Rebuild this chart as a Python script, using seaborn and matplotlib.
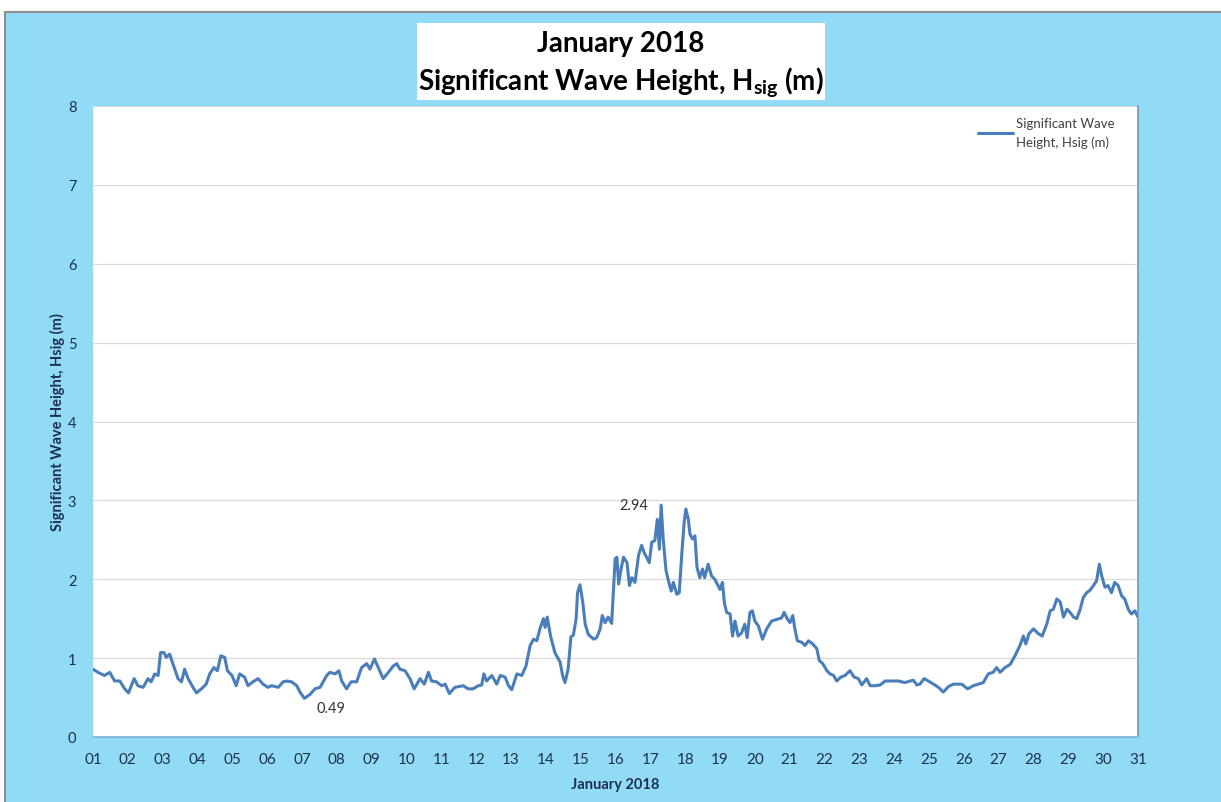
import numpy as np
import pandas as pd
import matplotlib.pyplot as plt
import matplotlib.ticker as mticker
from matplotlib.patches import Rectangle
import seaborn as sns

# 읽어낸 값: 날짜(소수점 = 하루 중 시각), 유의파고 (m)
day = [1.00, 1.14, 1.33, 1.48, 1.62, 1.77, 1.91, 2.02, 2.18, 2.29, 2.44, 2.58, 2.67, 2.77, 2.87,
       2.94, 3.04, 3.10, 3.20, 3.33, 3.44, 3.54, 3.63, 3.73, 3.87, 3.97, 4.11, 4.25, 4.35, 4.47,
       4.57, 4.67, 4.78, 4.86, 4.99, 5.11, 5.21, 5.35, 5.45, 5.59, 5.74, 5.88, 6.02, 6.13, 6.32,
       6.46, 6.56, 6.70, 6.85, 6.94, 7.07, 7.23, 7.37, 7.52, 7.71, 7.80, 7.95, 8.06, 8.14, 8.28,
       8.41, 8.57, 8.71, 8.86, 8.95, 9.08, 9.19, 9.33, 9.48, 9.62, 9.72, 9.81, 9.96, 10.10, 10.22,
       10.39, 10.51, 10.63, 10.72, 10.86, 11.01, 11.11, 11.23, 11.39, 11.63, 11.77, 11.91, 12.06,
       12.16, 12.22, 12.30, 12.45, 12.59, 12.69, 12.83, 12.93, 13.02, 13.17, 13.31, 13.43, 13.55,
       13.65, 13.74, 13.83, 13.93, 13.98, 14.04, 14.14, 14.26, 14.41, 14.48, 14.55, 14.64, 14.72,
       14.79, 14.87, 14.91, 14.98, 15.06, 15.13, 15.22, 15.37, 15.46, 15.56, 15.62, 15.70, 15.79,
       15.89, 15.99, 16.04, 16.09, 16.16, 16.23, 16.33, 16.40, 16.47, 16.56, 16.66, 16.75, 16.82,
       16.89, 16.97, 17.04, 17.13, 17.20, 17.26, 17.31, 17.37, 17.45, 17.52, 17.60, 17.66, 17.76,
       17.83, 17.90, 17.97, 18.02, 18.09, 18.14, 18.21, 18.28, 18.34, 18.42, 18.50, 18.56, 18.66,
       18.76, 18.85, 18.92, 19.00, 19.07, 19.13, 19.19, 19.29, 19.36, 19.43, 19.52, 19.62, 19.71,
       19.78, 19.86, 19.93, 20.00, 20.10, 20.22, 20.34, 20.48, 20.63, 20.77, 20.84, 20.93, 21.01,
       21.09, 21.15, 21.22, 21.35, 21.44, 21.54, 21.66, 21.78, 21.85, 21.95, 22.07, 22.16, 22.26,
       22.35, 22.47, 22.59, 22.73, 22.85, 22.97, 23.07, 23.21, 23.31, 23.45, 23.60, 23.74, 23.93,
       24.12, 24.31, 24.46, 24.55, 24.65, 24.74, 24.86, 24.98, 25.13, 25.27, 25.41, 25.56, 25.70,
       25.94, 26.11, 26.27, 26.41, 26.56, 26.70, 26.84, 26.94, 27.04, 27.18, 27.33, 27.47, 27.61,
       27.71, 27.78, 27.87, 28.00, 28.14, 28.25, 28.38, 28.48, 28.57, 28.67, 28.77, 28.86, 28.96,
       29.05, 29.15, 29.24, 29.34, 29.43, 29.53, 29.62, 29.72, 29.81, 29.89, 29.96, 30.05, 30.14,
       30.24, 30.33, 30.43, 30.53, 30.62, 30.72, 30.81, 30.91, 31.00]

hsig = [0.86, 0.82, 0.78, 0.82, 0.71, 0.71, 0.61, 0.56, 0.74, 0.65, 0.63, 0.74, 0.70, 0.80, 0.78,
        1.07, 1.07, 1.01, 1.05, 0.88, 0.74, 0.70, 0.86, 0.74, 0.63, 0.56, 0.61, 0.67, 0.80, 0.88,
        0.84, 1.03, 1.01, 0.84, 0.78, 0.65, 0.80, 0.76, 0.65, 0.70, 0.74, 0.67, 0.63, 0.65, 0.63,
        0.70, 0.71, 0.70, 0.65, 0.57, 0.49, 0.54, 0.61, 0.63, 0.78, 0.82, 0.80, 0.84, 0.71, 0.61,
        0.70, 0.70, 0.88, 0.93, 0.86, 0.99, 0.88, 0.74, 0.82, 0.90, 0.93, 0.86, 0.84, 0.74, 0.61,
        0.74, 0.67, 0.82, 0.71, 0.70, 0.65, 0.67, 0.55, 0.63, 0.65, 0.61, 0.61, 0.65,
        0.66, 0.80, 0.71, 0.78, 0.67, 0.78, 0.76, 0.65, 0.60, 0.80, 0.78, 0.90, 1.16,
        1.24, 1.22, 1.37, 1.50, 1.39, 1.52, 1.27, 1.07, 0.95, 0.78, 0.69, 0.86, 1.27,
        1.29, 1.50, 1.83, 1.93, 1.71, 1.43, 1.30, 1.24, 1.26, 1.37, 1.54, 1.45, 1.52,
        1.44, 2.26, 2.28, 1.94, 2.13, 2.28, 2.21, 1.92, 2.02, 1.96, 2.30, 2.43, 2.34,
        2.28, 2.21, 2.47, 2.49, 2.76, 2.38, 2.94, 2.51, 2.11, 1.98, 1.85, 1.96, 1.81,
        1.83, 2.30, 2.72, 2.89, 2.76, 2.57, 2.51, 2.55, 2.15, 2.02, 2.13, 2.02, 2.19,
        2.04, 2.00, 1.94, 1.87, 1.96, 1.69, 1.58, 1.56, 1.28, 1.47, 1.28, 1.32, 1.43,
        1.26, 1.58, 1.60, 1.47, 1.41, 1.24, 1.37, 1.47, 1.49, 1.51, 1.58, 1.50, 1.45,
        1.54, 1.37, 1.22, 1.20, 1.16, 1.22, 1.18, 1.12, 0.97, 0.93, 0.84, 0.80, 0.78,
        0.71, 0.76, 0.78, 0.84, 0.76, 0.74, 0.66, 0.74, 0.65, 0.65, 0.66, 0.71, 0.71,
        0.71, 0.69, 0.71, 0.72, 0.66, 0.67, 0.74, 0.71, 0.67, 0.63, 0.57, 0.64, 0.67,
        0.67, 0.61, 0.65, 0.67, 0.69, 0.80, 0.82, 0.88, 0.82, 0.88, 0.92, 1.03, 1.16,
        1.28, 1.18, 1.31, 1.37, 1.31, 1.28, 1.43, 1.60, 1.62, 1.75, 1.71, 1.52, 1.62,
        1.58, 1.52, 1.50, 1.62, 1.77, 1.83, 1.86, 1.92, 1.98, 2.19, 2.04, 1.90, 1.92,
        1.83, 1.96, 1.92, 1.79, 1.75, 1.62, 1.56, 1.60, 1.52]

day_ticks = list(range(1, 32))
day_labels = ['%02d' % d for d in day_ticks]
series_name = 'Significant Wave\nHeight, Hsig (m)'

df = pd.DataFrame({'day': day, 'hsig': hsig})

sns.set_style('white')
plt.rcParams['font.family'] = ['Lato', 'DejaVu Sans']
plt.rcParams['mathtext.fontset'] = 'custom'
plt.rcParams['mathtext.rm'] = 'Lato'
plt.rcParams['mathtext.bf'] = 'Lato:bold'

bg = '#92DBF6'
txt = '#1F2F4F'
line_col = '#4A7EBB'

fig = plt.figure(figsize=(12.21, 8.03), dpi=100, facecolor='white')
# 배경 패널 (축보다 아래에 그림)
fig.patches.append(Rectangle((5 / 1221, -0.01), 1.0, (803 - 13) / 803 + 0.01,
                             transform=fig.transFigure, facecolor=bg,
                             edgecolor='#8C8C8C', linewidth=1.5, zorder=-10))
# 제목 상자
fig.patches.append(Rectangle((417 / 1221, (803 - 101) / 803), 408 / 1221, 77 / 803,
                             transform=fig.transFigure, facecolor='white',
                             edgecolor='none', zorder=-5))

ax = fig.add_axes([93 / 1221, 65 / 803, 1045 / 1221, 631 / 803])
ax.set_facecolor('white')

sns.lineplot(data=df, x='day', y='hsig', ax=ax, color=line_col, linewidth=2.2,
             label=series_name, sort=False)

ax.set_xlim(1, 31)
ax.set_ylim(0, 8)
ax.set_xticks(day_ticks)
ax.set_xticklabels(day_labels)
ax.xaxis.set_minor_locator(mticker.MultipleLocator(1 / 8))
ax.set_yticks(range(0, 9))
ax.yaxis.grid(True, color='#D9D9D9', linewidth=0.9)
ax.set_axisbelow(True)

for s in ['left', 'top']:
    ax.spines[s].set_visible(False)
ax.spines['right'].set_color('#6E9AB5')
ax.spines['right'].set_linewidth(1.2)
ax.spines['bottom'].set_color('#7FB3DA')
ax.spines['bottom'].set_linewidth(1.2)

ax.tick_params(axis='x', which='major', length=5, width=1, color='#7FB3DA',
               labelsize=11, labelcolor=txt, pad=6)
ax.tick_params(axis='x', which='minor', length=4, width=0.8, color='#7FB3DA')
ax.tick_params(axis='y', length=0, labelsize=10.5, labelcolor=txt, pad=12)

ax.set_xlabel('January 2018', fontsize=10.5, fontweight='bold', color=txt, labelpad=8)
ax.set_ylabel('Significant Wave Height, Hsig (m)', fontsize=10.5, fontweight='bold',
              color=txt, labelpad=2)

# 최대/최소 표시
i_max = int(np.argmax(hsig))
i_min = int(np.argmin(hsig))
ax.annotate('%.2f' % hsig[i_max], xy=(day[i_max], hsig[i_max]), xytext=(-20, 0),
            textcoords='offset points', ha='center', va='center', fontsize=10.5, color='#333333')
ax.annotate('%.2f' % hsig[i_min], xy=(day[i_min], hsig[i_min]), xytext=(19, -7),
            textcoords='offset points', ha='center', va='center', fontsize=10.5, color='#333333')

leg = ax.legend(loc='upper right', frameon=False, fontsize=9.5, handlelength=2.7,
                handletextpad=0.2, borderaxespad=0.2, bbox_to_anchor=(0.985, 0.995))
for t in leg.get_texts():
    t.set_color('#404040')
    t.set_linespacing(1.6)

fig.text(621 / 1221, (803 - 65) / 803,
         'January 2018\nSignificant Wave Height, $\\mathbf{H_{sig}}$ (m)',
         ha='center', va='center', fontsize=20, fontweight='bold', color='black',
         linespacing=1.3)

plt.savefig('out.png', dpi=100, facecolor=fig.get_facecolor())
